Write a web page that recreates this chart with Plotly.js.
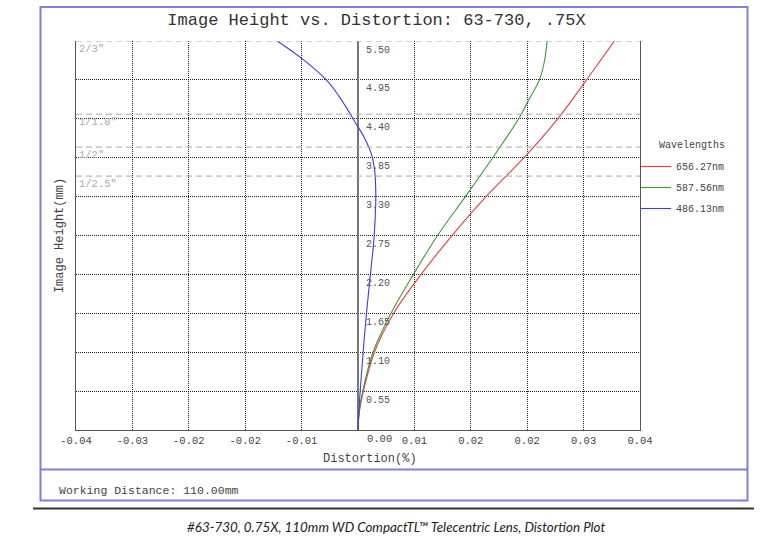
<!DOCTYPE html>
<html>
<head>
<meta charset="utf-8">
<script src="https://cdn.plot.ly/plotly-3.0.1.min.js"></script>
<style>html,body{margin:0;padding:0;background:#fff;}#chart{width:771px;height:538px;}</style>
</head>
<body>
<div id="chart"></div>
<script>
// ---- data ----
var wavelengths = ['656.27nm', '587.56nm', '486.13nm'];
var colors = ['#ee3b3b', '#3a9a3a', '#3a3aee'];

var redHeight   = [0, 0.25, 0.55, 1.10, 1.65, 2.20, 2.76, 3.30, 3.85, 4.40, 4.95, 5.50];
var redDist     = [0, 0.00018, 0.00077, 0.00233, 0.00506, 0.00895, 0.01343, 0.01816, 0.02355, 0.02833, 0.03241, 0.03637];

var greenHeight = [0, 0.25, 0.55, 1.10, 1.65, 2.20, 2.75, 3.30, 3.85, 4.40, 4.64, 4.95, 5.21, 5.50];
var greenDist   = [0, 0.00015, 0.00067, 0.00213, 0.00468, 0.00786, 0.01128, 0.01523, 0.01911, 0.02279, 0.02407, 0.02573, 0.02644, 0.02682];

var blueHeight  = [0, 0.36, 0.83, 1.30, 1.77, 2.24, 2.71, 3.19, 3.42, 3.66, 3.89, 4.13, 4.32, 4.60, 4.72, 4.94, 5.24, 5.50];
var blueDist    = [0, 0.00018, 0.00052, 0.00089, 0.00132, 0.00180, 0.00227, 0.00251, 0.00251, 0.00237, 0.00194, 0.00092, -0.00021, -0.00191, -0.00270, -0.00440, -0.00780, -0.01145];

var xTickVals = [-0.04, -0.032, -0.024, -0.016, -0.008, 0, 0.008, 0.016, 0.024, 0.032, 0.04];
var xTickText = ['-0.04', '-0.03', '-0.02', '-0.02', '-0.01', '', '0.01', '0.02', '0.02', '0.03', '0.04'];
var zeroLabel = '0.00';

var yTickVals = [0.55, 1.10, 1.65, 2.20, 2.75, 3.30, 3.85, 4.40, 4.95, 5.50];
var yTickText = ['0.55', '1.10', '1.65', '2.20', '2.75', '3.30', '3.85', '4.40', '4.95', '5.50'];

var sensorNames   = ['2/3"', '1/1.8"', '1/2"', '1/2.5"'];
var sensorHeights = [5.50, 4.465, 4.00, 3.59];

var titleText = 'Image Height vs. Distortion: 63-730, .75X';
var xTitle = 'Distortion(%)';
var yTitle = 'Image Height(mm)';
var legendTitle = 'Wavelengths';
var footerText = 'Working Distance: 110.00mm';
var captionText = '#63-730, 0.75X, 110mm WD CompactTL\u2122 Telecentric Lens, Distortion Plot';

// ---- layout helpers ----
var W = 771, H = 538;
var M = {l: 76, r: 131, t: 41, b: 108};
var PW = W - M.l - M.r, PH = H - M.t - M.b;
function px(x) { return (x - M.l) / PW; }
function py(y) { return (H - M.b - y) / PH; }

var MONO = '"Courier New", "Liberation Mono", monospace';

var traces = [
  {x: redDist, y: redHeight, name: wavelengths[0]},
  {x: greenDist, y: greenHeight, name: wavelengths[1]},
  {x: blueDist, y: blueHeight, name: wavelengths[2]}
].map(function (t, i) {
  return {
    type: 'scatter', mode: 'lines', x: t.x, y: t.y, name: t.name, legendgroup: 'g' + i,
    line: {color: colors[i], width: 1.1, shape: 'spline', smoothing: 1},
    hoverinfo: 'skip'
  };
});

var shapes = [];
sensorHeights.forEach(function (h) {
  shapes.push({type: 'line', xref: 'paper', x0: 0, x1: 1, yref: 'y', y0: h, y1: h,
    line: {color: '#a8a8a8', width: 1, dash: '6px,4px'}, layer: 'above'});
});
// outer frame and separators
shapes.push({type: 'rect', xref: 'paper', yref: 'paper', x0: px(40.5), x1: px(747.5), y0: py(500.5), y1: py(7),
  line: {color: '#7f7fe0', width: 2}, layer: 'below'});
shapes.push({type: 'line', xref: 'paper', yref: 'paper', x0: px(40.5), x1: px(747.5), y0: py(469.5), y1: py(469.5),
  line: {color: '#7f7fe0', width: 2}});
shapes.push({type: 'line', xref: 'paper', yref: 'paper', x0: px(33), x1: px(754), y0: py(508.5), y1: py(508.5),
  line: {color: '#333', width: 2}});

var annotations = [];
yTickVals.forEach(function (v, i) {
  annotations.push({x: 0, xref: 'x', y: v, yref: 'y', text: yTickText[i], showarrow: false,
    xanchor: 'left', yanchor: 'middle', xshift: 6, yshift: -9,
    font: {family: MONO, size: 10, color: '#555'}});
});
sensorHeights.forEach(function (h, i) {
  annotations.push({x: 0, xref: 'paper', y: h, yref: 'y', text: sensorNames[i], showarrow: false,
    xanchor: 'left', yanchor: 'middle', xshift: 1, yshift: -8,
    font: {family: MONO, size: 10.5, color: '#aaa'}});
});
annotations.push({x: 0, xref: 'x', y: 0, yref: 'paper', text: zeroLabel, showarrow: false,
  xanchor: 'center', yanchor: 'top', xshift: 21, yshift: -1,
  font: {family: MONO, size: 10.5, color: '#444'}});
annotations.push({x: px(370), xref: 'paper', y: py(459), yref: 'paper', text: xTitle, showarrow: false,
  xanchor: 'center', yanchor: 'middle', font: {family: MONO, size: 12, color: '#444'}});
annotations.push({x: px(657), xref: 'paper', y: py(145), yref: 'paper', text: legendTitle, showarrow: false,
  xanchor: 'left', yanchor: 'middle', font: {family: MONO, size: 10, color: '#444'}});
annotations.push({x: px(57), xref: 'paper', y: py(490), yref: 'paper', text: footerText, showarrow: false,
  xanchor: 'left', yanchor: 'middle', font: {family: MONO, size: 11.5, color: '#444'}});
annotations.push({x: px(396), xref: 'paper', y: py(527), yref: 'paper', text: '<i>' + captionText + '</i>', showarrow: false,
  xanchor: 'center', yanchor: 'middle', font: {family: 'Lato, "Open Sans", sans-serif', size: 13.4, color: '#222'}});

var gridStyle = {showgrid: true, gridcolor: '#222', gridwidth: 1, griddash: '1px,1px'};

var layout = {
  width: W, height: H,
  margin: M,
  paper_bgcolor: '#fff', plot_bgcolor: '#fff',
  title: {text: titleText, font: {family: MONO, size: 17, color: '#333'},
    x: 376.5 / W, xref: 'container', xanchor: 'center', y: 1 - 19 / H, yref: 'container', yanchor: 'middle'},
  xaxis: Object.assign({
    range: [-0.04, 0.04], tickmode: 'array', tickvals: xTickVals, ticktext: xTickText,
    ticks: '', zeroline: true, zerolinecolor: '#777', zerolinewidth: 1.5,
    showline: true, linecolor: '#555', linewidth: 1, mirror: false,
    tickfont: {family: MONO, size: 10.5, color: '#444'}, fixedrange: true
  }, gridStyle),
  yaxis: Object.assign({
    range: [0, 5.5], tickmode: 'array', tickvals: yTickVals, showticklabels: false, ticks: '',
    zeroline: false, showline: true, linecolor: '#555', linewidth: 1, mirror: true,
    title: {text: yTitle, font: {family: MONO, size: 12, color: '#444'}, standoff: 8},
    fixedrange: true
  }, gridStyle),
  showlegend: true,
  legend: {x: px(636), xanchor: 'left', y: py(152), yanchor: 'top', tracegroupgap: 2,
    font: {family: MONO, size: 10, color: '#444'}, bgcolor: 'rgba(0,0,0,0)', borderwidth: 0},
  shapes: shapes,
  annotations: annotations
};

Plotly.newPlot('chart', traces, layout, {displayModeBar: false, staticPlot: true});
</script>
</body>
</html>
